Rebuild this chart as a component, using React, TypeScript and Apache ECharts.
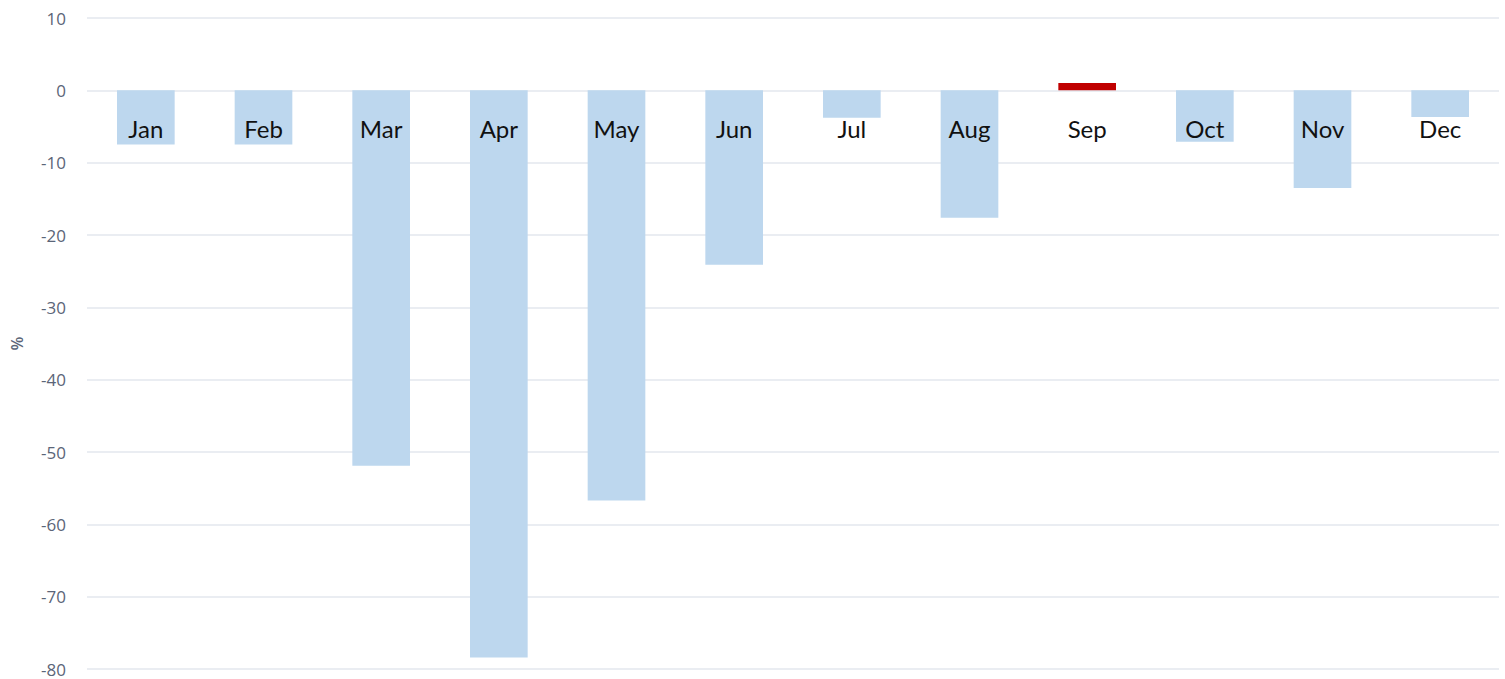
import React, { useEffect, useRef } from "react";
import * as echarts from "echarts";

const months = ["Jan", "Feb", "Mar", "Apr", "May", "Jun", "Jul", "Aug", "Sep", "Oct", "Nov", "Dec"];
const changes = [-7.5, -7.5, -51.9, -78.4, -56.7, -24.1, -3.8, -17.6, 1.0, -7.1, -13.5, -3.7];
const labelBaseline = months.map(() => 0);
const highlightMonth = "Sep";
const yTicks = { min: -80, max: 10, interval: 10 };

const baseColor = "#bdd7ee";
const highlightColor = "#c00000";

export default function App() {
  const ref = useRef<HTMLDivElement>(null);
  useEffect(() => {
    if (!ref.current) return;
    const chart = echarts.init(ref.current, undefined, { renderer: "svg" });
    chart.setOption({
      animation: false,
      backgroundColor: "#ffffff",
      grid: { left: 87, right: 6, top: 18, bottom: 10, containLabel: false, outerBoundsMode: "none" },
      xAxis: {
        type: "category",
        data: months,
        axisLine: { show: false },
        axisTick: { show: false },
        splitLine: { show: false },
        axisLabel: { show: false },
      },
      yAxis: {
        type: "value",
        min: yTicks.min,
        max: yTicks.max,
        interval: yTicks.interval,
        name: "%",
        nameLocation: "middle",
        nameGap: 62,
        nameRotate: 90,
        nameTextStyle: { fontFamily: "Open Sans", fontSize: 16, fontWeight: 600, color: "#5b6578" },
        axisLine: { show: false },
        axisTick: { show: false },
        axisLabel: { margin: 21, fontFamily: "Open Sans", fontSize: 17, color: "#5b6578" },
        splitLine: { lineStyle: { color: "#e3e7ee", width: 1.5 } },
      },
      series: [
        {
          type: "bar",
          data: changes.map((v, i) => ({
            value: v,
            itemStyle: { color: months[i] === highlightMonth ? highlightColor : baseColor },
          })),
          barWidth: "49%",
          z: 1,
        },
        {
          type: "scatter",
          data: labelBaseline,
          symbolSize: 0,
          silent: true,
          z: 3,
          itemStyle: { opacity: 1 },
          label: {
            show: true,
            position: "bottom",
            distance: 26,
            formatter: (p: any) => p.name,
            fontFamily: "Lato",
            fontSize: 24,
            color: "#111111",
            opacity: 1,
          },
        },
      ],
    });
    return () => chart.dispose();
  }, []);
  return (
    <div
      ref={ref}
      style={{ position: "fixed", left: 0, top: 0, width: 1505, height: 679, background: "#fff" }}
    />
  );
}
